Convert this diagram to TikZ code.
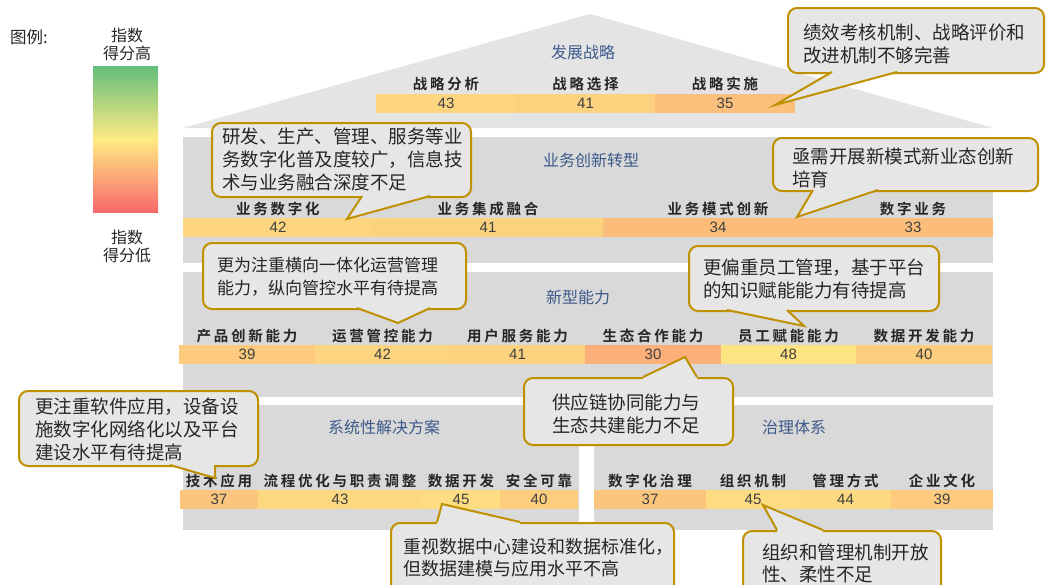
\documentclass[tikz,border=0pt]{standalone}
\usepackage{fontspec}
\usetikzlibrary{calc}
\setmainfont{Liberation Sans}
\newfontfamily\cjk{Noto Sans CJK SC}
\newfontfamily\cjkb[LetterSpace=19]{Noto Sans CJK SC Bold}
\definecolor{roofg}{HTML}{E4E4E4}
\definecolor{layg}{HTML}{D9D9D9}
\definecolor{callg}{HTML}{E6E6E6}
\definecolor{gold}{HTML}{BF9000}
\definecolor{tblue}{HTML}{3D5A8C}
\definecolor{numc}{HTML}{404040}
\definecolor{txt}{HTML}{262626}
\definecolor{lgG}{HTML}{63BE7B}
\definecolor{lgY}{HTML}{FFEB84}
\definecolor{lgR}{HTML}{F8696B}
\definecolor{cA}{HTML}{FDD57F}
\definecolor{cB}{HTML}{FDD27F}
\definecolor{cC}{HTML}{FCC07C}
\definecolor{cD}{HTML}{FDD580}
\definecolor{cE}{HTML}{FCBD7B}
\definecolor{cF}{HTML}{FDCA7E}
\definecolor{cG}{HTML}{FBB07A}
\definecolor{cH}{HTML}{FEE383}
\definecolor{cI}{HTML}{FDCD7E}
\definecolor{cJ}{HTML}{FCC57D}
\definecolor{cK}{HTML}{FDD880}
\definecolor{cL}{HTML}{FEDC81}
\definecolor{cM}{HTML}{FDDA80}
\newcommand\mytail[4]{%
  \fill[callg] (#1) -- (#2) -- (#3) -- ($(#3)+(0,#4)$) -- ($(#1)+(0,#4)$) -- cycle;
  \draw[tailline] (#1) -- (#2) -- (#3);}
\begin{document}
\begin{tikzpicture}[x=1pt,y=-1pt,
  seg/.style={inner sep=0, minimum height=19.5pt, font=\fontsize{15}{17}\selectfont, text=numc},
  lbl/.style={inner sep=0, font=\cjkb\fontsize{14.5}{16}\selectfont, text=txt},
  ttl/.style={inner sep=0, font=\cjk\fontsize{16}{18}\selectfont, text=tblue},
  cbox/.style={draw=gold, line width=2pt, fill=callg, rounded corners=9pt, inner sep=0, anchor=north west},
  ctext/.style={inner sep=0, anchor=west, align=left, text=txt, font=\cjk\fontsize{18.5}{23}\selectfont},
  tailline/.style={draw=gold, line width=2pt},
  legtext/.style={inner sep=0, align=center, font=\cjk\fontsize{16}{18}\selectfont, text=txt}]
\useasboundingbox (0,0) rectangle (1047,584);
\fill[white] (0,0) rectangle (1047,584);

% legend
\node[inner sep=0, anchor=west, font=\cjk\fontsize{16.5}{18}\selectfont, text=txt] (leg) at (10,37) {图例:};
\node[legtext] (legh) at (127,44) {指数\\得分高};
\node[legtext] (legl) at (127,246.5) {指数\\得分低};
\shade[top color=lgG, bottom color=lgY] (93,66) rectangle (158,139.5);
\shade[top color=lgY, bottom color=lgR] (93,139) rectangle (158,212);

% house
\fill[roofg] (183,128) -- (590,14) -- (993,128) -- cycle;
\fill[layg] (183,137) rectangle (993,263);
\fill[layg] (183,272) rectangle (993,397);
\fill[layg] (183,405) rectangle (579,530);
\fill[layg] (594,405) rectangle (993,530);

\node[ttl] (t0) at (583,52) {发展战略};
\node[ttl] (t1) at (591,160) {业务创新转型};
\node[ttl] (t2) at (578,297) {新型能力};
\node[ttl] (t3) at (384,427) {系统性解决方案};
\node[ttl] (t4) at (794,427) {治理体系};

\foreach \xa/\xb/\vv/\cc/\lab/\nm in {376/516/43/cA/战略分析/a1, 516/655/41/cB/战略选择/a2, 655/795/35/cC/战略实施/a3}{
  \node[seg, fill=\cc, minimum width={\xb-\xa+0.4}] (s\nm) at ({(\xa+\xb)/2},103.5) {\vv};
  \node[lbl] (l\nm) at ({(\xa+\xb)/2},84) {\lab};
}
\foreach \xa/\xb/\vv/\cc/\lab/\nm in {183/373/42/cD/业务数字化/b1, 373/603/41/cB/业务集成融合/b2, 603/833/34/cE/业务模式创新/b3, 833/993/33/cE/数字业务/b4}{
  \node[seg, fill=\cc, minimum width={\xb-\xa+0.4}] (s\nm) at ({(\xa+\xb)/2},227.5) {\vv};
  \node[lbl] (l\nm) at ({(\xa+\xb)/2},209) {\lab};
}
\foreach \xa/\xb/\vv/\cc/\lab/\nm in {179/315/39/cF/产品创新能力/c1, 315/450/42/cD/运营管控能力/c2, 450/585/41/cB/用户服务能力/c3, 585/721/30/cG/生态合作能力/c4, 721/856/48/cH/员工赋能能力/c5, 856/992/40/cI/数据开发能力/c6}{
  \node[seg, fill=\cc, minimum width={\xb-\xa+0.4}] (s\nm) at ({(\xa+\xb)/2},354.5) {\vv};
  \node[lbl] (l\nm) at ({(\xa+\xb)/2},336) {\lab};
}
\foreach \xa/\xb/\vv/\cc/\lab/\nm in {180/258/37/cJ/技术应用/d1, 258/422/43/cK/流程优化与职责调整/d2, 422/500/45/cL/数据开发/d3, 500/578/40/cI/安全可靠/d4, 594/706/37/cJ/数字化治理/e1, 706/800/45/cL/组织机制/e2, 800/891/44/cM/管理方式/e3, 891/993/39/cF/企业文化/e4}{
  \node[seg, fill=\cc, minimum width={\xb-\xa+0.4}] (s\nm) at ({(\xa+\xb)/2},499.5) {\vv};
  \node[lbl] (l\nm) at ({(\xa+\xb)/2},481) {\lab};
}

% callout 1
\node[cbox, minimum width=256pt, minimum height=65pt] (cb1) at (787,7) {};
\coordinate (p1) at (775,105); \coordinate (q1) at (832,72); \coordinate (r1) at (897,72);
\mytail{q1}{p1}{r1}{-3}
\node[ctext] (ct1) at (803,44) {绩效考核机制、战略评价和\\改进机制不够完善};

% callout 2
\node[cbox, minimum width=259pt, minimum height=74pt] (cb2) at (211,122) {};
\coordinate (p2) at (347,219); \coordinate (q2) at (362,196); \coordinate (r2) at (430,196);
\mytail{q2}{p2}{r2}{-3}
\node[ctext] (ct2) at (222,159) {研发、生产、管理、服务等业\\务数字化普及度较广，信息技\\术与业务融合深度不足};

% callout 3
\node[cbox, minimum width=265pt, minimum height=53pt] (cb3) at (772,137) {};
\coordinate (p3) at (797,217); \coordinate (q3) at (813,190); \coordinate (r3) at (878,190);
\mytail{q3}{p3}{r3}{-3}
\node[ctext] (ct3) at (792,167.5) {亟需开展新模式新业态创新\\培育};

% callout 4
\node[cbox, minimum width=263pt, minimum height=66pt] (cb4) at (202,242) {};
\coordinate (p4) at (398,323); \coordinate (q4) at (357,308); \coordinate (r4) at (430,308);
\mytail{q4}{p4}{r4}{-3}
\node[ctext, font=\cjk\fontsize{17}{23}\selectfont] (ct4) at (217,276.5) {更为注重横向一体化运营管理\\能力，纵向管控水平有待提高};

% callout 5
\node[cbox, minimum width=250pt, minimum height=65pt] (cb5) at (688,245) {};
\coordinate (p5) at (804,326); \coordinate (q5) at (727,310); \coordinate (r5) at (787,310);
\mytail{q5}{p5}{r5}{-3}
\node[ctext] (ct5) at (703,279) {更偏重员工管理，基于平台\\的知识赋能能力有待提高};

% callout 6
\node[cbox, minimum width=209pt, minimum height=67pt] (cb6) at (523,377) {};
\coordinate (p6) at (685,357); \coordinate (q6) at (643,377); \coordinate (r6) at (697,377);
\mytail{q6}{p6}{r6}{3}
\node[ctext] (ct6) at (552,413.5) {供应链协同能力与\\生态共建能力不足};

% callout 7
\node[cbox, minimum width=239pt, minimum height=75pt] (cb7) at (18,390) {};
\coordinate (p7) at (215,478); \coordinate (q7) at (170,465); \coordinate (r7) at (215,465);
\mytail{q7}{p7}{r7}{-3}
\node[ctext] (ct7) at (35,429.5) {更注重软件应用，设备设\\施数字化网络化以及平台\\建设水平有待提高};

% callout 8
\node[cbox, minimum width=283pt, minimum height=75pt] (cb8) at (390,522) {};
\coordinate (p8) at (442,504); \coordinate (q8) at (437,522); \coordinate (r8) at (520,522);
\mytail{q8}{p8}{r8}{3}
\node[ctext, font=\cjk\fontsize{18}{22.5}\selectfont] (ct8) at (403,557.5) {重视数据中心建设和数据标准化，\\但数据建模与应用水平不高};

% callout 9
\node[cbox, minimum width=198pt, minimum height=65pt] (cb9) at (742,530) {};
\coordinate (p9) at (763,505); \coordinate (q9) at (777,530); \coordinate (r9) at (823,530);
\mytail{q9}{p9}{r9}{3}
\node[ctext, font=\cjk\fontsize{18.5}{22}\selectfont] (ct9) at (762,563.5) {组织和管理机制开放\\性、柔性不足};
\end{tikzpicture}
\end{document}
